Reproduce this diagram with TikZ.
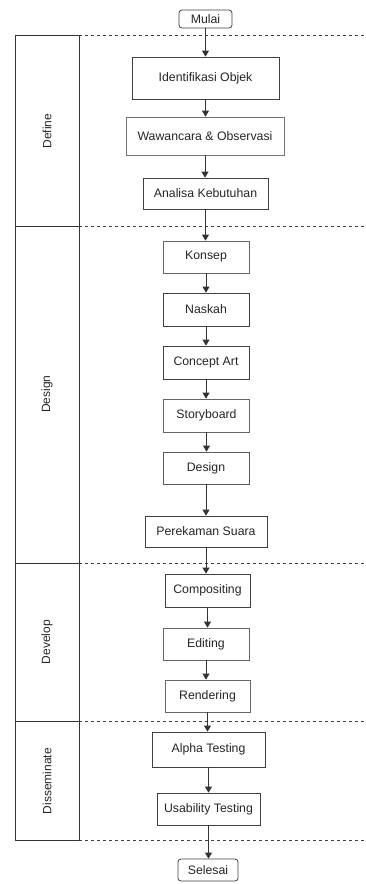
\documentclass[tikz,border=0pt]{standalone}
\usepackage{fontspec}
\setmainfont{Liberation Sans}
\usetikzlibrary{arrows.meta}
\begin{document}
\begin{tikzpicture}[x=1pt,y=-1pt,
  box/.style={draw=black!75,line width=0.8pt,fill=white,inner sep=0pt,font=\fontsize{12.3}{14}\selectfont,text=black!85},
  term/.style={box,rounded corners=3pt},
  arr/.style={draw=black!80,line width=0.8pt,-{Triangle[width=7pt,length=6pt]}},
  lane/.style={draw=black!80,line width=0.8pt},
  sep/.style={draw=black!75,line width=0.7pt,dash pattern=on 3pt off 3pt},
  lanelabel/.style={rotate=90,font=\fontsize{12}{14}\selectfont,text=black!85}]
\useasboundingbox (0,0) rectangle (366,884);
% lanes
\draw[lane] (15,35) rectangle (79,840);
\draw[lane] (15,226) -- (79,226);
\draw[lane] (15,563) -- (79,563);
\draw[lane] (15,721) -- (79,721);
\draw[sep] (79,35) -- (366,35);
\draw[sep] (79,226) -- (366,226);
\draw[sep] (79,563) -- (366,563);
\draw[sep] (79,721) -- (366,721);
\draw[sep] (79,840) -- (366,840);
\node[lanelabel] (lDefine) at (47,131) {Define};
\node[lanelabel] (lDesign) at (47,394) {Design};
\node[lanelabel] (lDevelop) at (47,642) {Develop};
\node[lanelabel] (lDiss) at (47,781) {Disseminate};
% nodes
\node[term,minimum width=53,minimum height=18] (mulai) at (205.5,19) {Mulai};
\node[box,minimum width=147,minimum height=42] (ident) at (205.5,78) {Identifikasi Objek};
\node[box,minimum width=158,minimum height=38,draw=black!55] (waw) at (205,136) {Wawancara \& Observasi};
\node[box,minimum width=125,minimum height=31] (anal) at (205.5,193.5) {Analisa Kebutuhan};
\node[box,minimum width=86,minimum height=32,draw=black!60] (konsep) at (206,257) {Konsep};
\node[box,minimum width=86,minimum height=33] (naskah) at (206,309.5) {Naskah};
\node[box,minimum width=86,minimum height=33] (concept) at (206,362.5) {Concept Art};
\node[box,minimum width=86,minimum height=33,draw=black!60] (story) at (206.5,415.5) {Storyboard};
\node[box,minimum width=86,minimum height=32,draw=black!65] (design) at (206,468) {Design};
\node[box,minimum width=122,minimum height=31] (rekam) at (206,531.5) {Perekaman Suara};
\node[box,minimum width=85,minimum height=33] (comp) at (207.5,590.5) {Compositing};
\node[box,minimum width=86,minimum height=32,draw=black!60] (edit) at (206,644) {Editing};
\node[box,minimum width=85,minimum height=32,draw=black!60] (render) at (207.5,696) {Rendering};
\node[box,minimum width=113,minimum height=35] (alpha) at (208.5,749.5) {Alpha Testing};
\node[box,minimum width=103,minimum height=32] (usab) at (208.5,809) {Usability Testing};
\node[term,minimum width=60,minimum height=22] (selesai) at (208,870) {Selesai};
% arrows
\foreach \a/\b in {mulai/ident,ident/waw,waw/anal,anal/konsep,konsep/naskah,naskah/concept,concept/story,story/design,design/rekam,rekam/comp,comp/edit,edit/render,render/alpha,alpha/usab,usab/selesai}
  \draw[arr] (\a.south) -- (\a.south |- \b.north);
\end{tikzpicture}
\end{document}
